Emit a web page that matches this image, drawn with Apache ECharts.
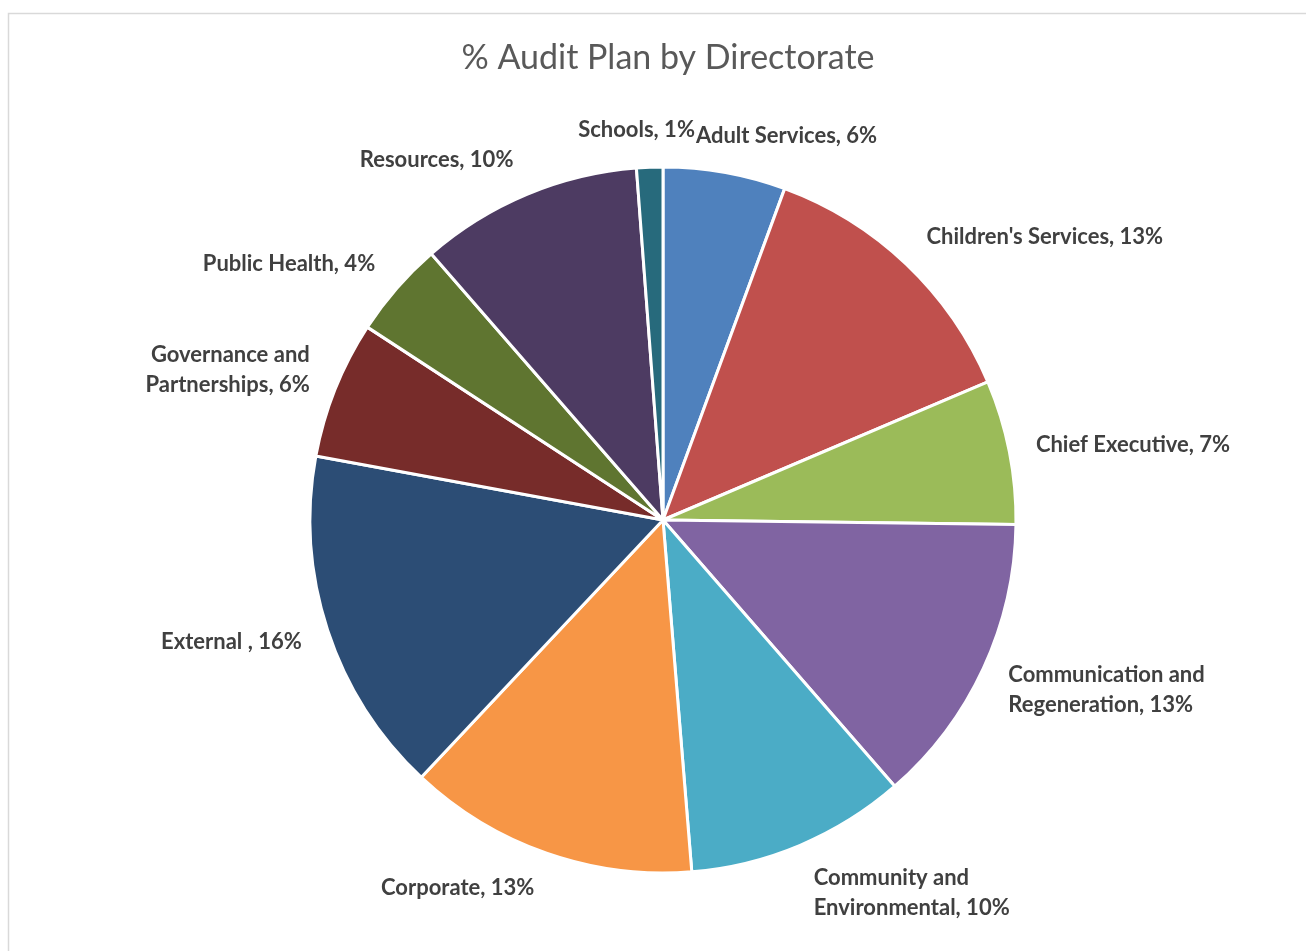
<!DOCTYPE html>
<html>
<head>
<meta charset="utf-8">
<script src="https://cdn.jsdelivr.net/npm/echarts@6/dist/echarts.min.js"></script>
<style>
  html, body { margin: 0; padding: 0; background: #fff; }
  #pie-chart { width: 1306px; height: 951px; }
</style>
</head>
<body>
<div id="pie-chart"></div>
<script>
// directorates, clockwise from 12 o'clock
var directorates = [
    "Adult Services",
    "Children's Services",
    "Chief Executive",
    "Communication and\nRegeneration",
    "Community and\nEnvironmental",
    "Corporate",
    "External ",
    "Governance and\nPartnerships",
    "Public Health",
    "Resources",
    "Schools"
];
// share of the audit plan (%)
var shares = [5.6, 13.0, 6.6, 13.4, 10.1, 13.3, 15.9, 6.3, 4.4, 10.2, 1.2];
var colours = ["#4F81BD", "#C0504D", "#9BBB59", "#8064A2", "#4BACC6", "#F79646",
               "#2C4D75", "#772C2A", "#5F7530", "#4D3B62", "#276A7C"];

var pieData = directorates.map(function (name, i) {
    return { name: name, value: shares[i], itemStyle: { color: colours[i] } };
});

// middle angle of every slice (radians, clockwise from the top)
var total = shares.reduce(function (a, b) { return a + b; }, 0);
var midAngles = [];
var run = 0;
shares.forEach(function (v) {
    midAngles.push((run + v / 2) / total * 2 * Math.PI);
    run += v;
});

var myChart = echarts.init(document.getElementById("pie-chart"));

var option = {
    backgroundColor: "#fff",
    animation: false,
    title: {
        text: "% Audit Plan by Directorate",
        left: 663,
        textAlign: "center",
        top: 36,
        textStyle: { fontFamily: "Lato", fontSize: 34, fontWeight: "normal", color: "#595959" }
    },
    graphic: [{
        type: "rect",
        shape: { x: 8.5, y: 13.5, width: 1310, height: 950 },
        style: { fill: "none", stroke: "#d9d9d9", lineWidth: 1.5 },
        silent: true
    }],
    series: [{
        type: "pie",
        center: [663, 520],
        radius: 353,
        startAngle: 90,
        clockwise: true,
        avoidLabelOverlap: false,
        itemStyle: { borderColor: "#fff", borderWidth: 3 },
        label: {
            show: true,
            position: "outside",
            fontFamily: "Lato",
            fontSize: 22,
            fontWeight: "bold",
            color: "#404040",
            lineHeight: 30,
            align: "center",
            formatter: function (p) {
                return p.name + ", " + Math.round(p.percent) + "%";
            }
        },
        labelLine: { show: false, length: 22, length2: 0 },
        // Excel-like placement: push labels out by half their height,
        // and pull labels near 12/6 o'clock towards the slice middle
        labelLayout: function (params) {
            var a = midAngles[params.dataIndex];
            var s = Math.sin(a);
            var f = Math.max(0, 1 - Math.abs(s) / 0.3);
            return {
                dx: (s >= 0 ? -1 : 1) * f * params.labelRect.width / 2,
                dy: -Math.cos(a) * params.labelRect.height / 2
            };
        },
        data: pieData
    }]
};

myChart.setOption(option);
</script>
</body>
</html>
